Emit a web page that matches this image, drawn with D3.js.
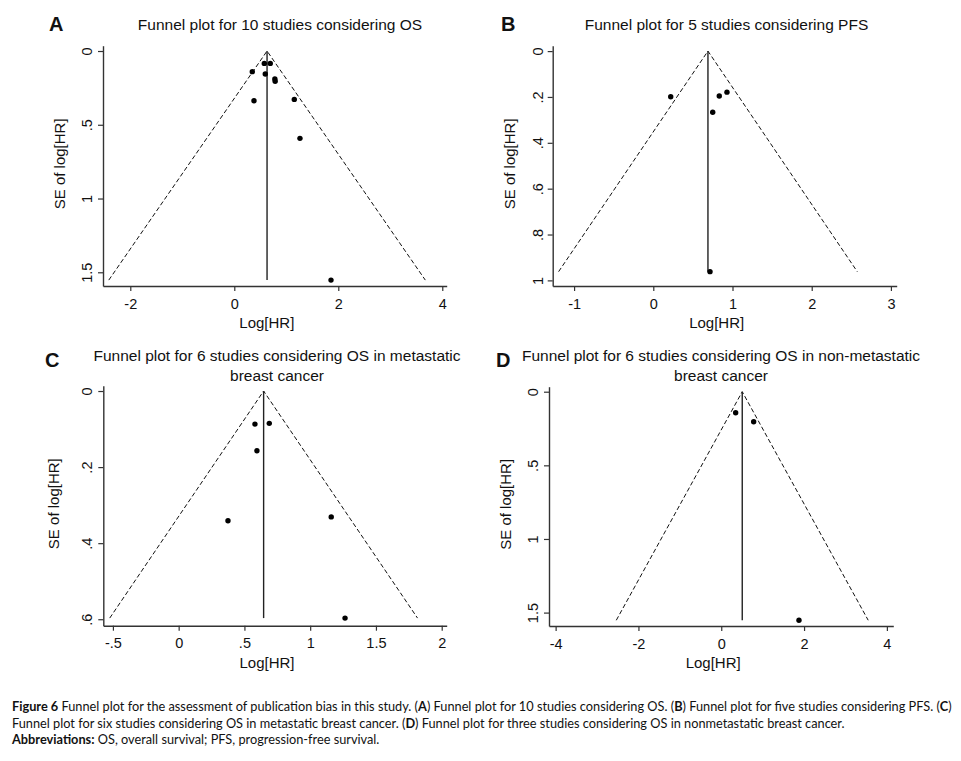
<!DOCTYPE html>
<html>
<head>
<meta charset="utf-8">
<script src="https://cdn.jsdelivr.net/npm/d3@7/dist/d3.min.js"></script>
<style>
  html, body { margin: 0; padding: 0; background: #fff; }
  svg { display: block; }
  text { font-family: "Liberation Sans", Arial, sans-serif; fill: #111; }
</style>
</head>
<body>
<svg id="chart" width="961" height="761"></svg>
<script>
// ---------- DATA ----------
// Panel A: 10 studies, OS
const logHR_A = [0.346, 0.577, 0.692, 0.596, 0.780, 0.786, 0.379, 1.154, 1.263, 1.860];
const seLogHR_A = [0.140, 0.084, 0.084, 0.156, 0.190, 0.205, 0.337, 0.328, 0.592, 1.553];
const pooled_A = 0.63;
// Panel B: 5 studies, PFS
const logHR_B = [0.220, 0.833, 0.930, 0.750, 0.716];
const seLogHR_B = [0.199, 0.196, 0.179, 0.267, 0.962];
const pooled_B = 0.69;
// Panel C: 6 studies, OS metastatic
const logHR_C = [0.580, 0.689, 0.595, 0.375, 1.160, 1.265];
const seLogHR_C = [0.087, 0.085, 0.157, 0.341, 0.331, 0.597];
const pooled_C = 0.646;
// Panel D: OS non-metastatic
const logHR_D = [0.348, 0.783, 1.877];
const seLogHR_D = [0.143, 0.204, 1.552];
const pooled_D = 0.507;

// tick values and labels
const xTicks_A = [-2, 0, 2, 4];          const xTickLabels_A = ["-2", "0", "2", "4"];
const yTicks_A = [0, 0.5, 1, 1.5];       const yTickLabels_A = ["0", ".5", "1", "1.5"];
const xTicks_B = [-1, 0, 1, 2, 3];       const xTickLabels_B = ["-1", "0", "1", "2", "3"];
const yTicks_B = [0, 0.2, 0.4, 0.6, 0.8, 1]; const yTickLabels_B = ["0", ".2", ".4", ".6", ".8", "1"];
const xTicks_C = [-0.5, 0, 0.5, 1, 1.5, 2]; const xTickLabels_C = ["-.5", "0", ".5", "1", "1.5", "2"];
const yTicks_C = [0, 0.2, 0.4, 0.6];     const yTickLabels_C = ["0", ".2", ".4", ".6"];
const xTicks_D = [-4, -2, 0, 2, 4];      const xTickLabels_D = ["-4", "-2", "0", "2", "4"];
const yTicks_D = [0, 0.5, 1, 1.5];       const yTickLabels_D = ["0", ".5", "1", "1.5"];

const panelLetters = ["A", "B", "C", "D"];
const panelTitles = [
  ["Funnel plot for 10 studies considering OS"],
  ["Funnel plot for 5 studies considering PFS"],
  ["Funnel plot for 6 studies considering OS in metastatic", "breast cancer"],
  ["Funnel plot for 6 studies considering OS in non-metastatic", "breast cancer"]
];
const xAxisTitle = "Log[HR]";
const yAxisTitle = "SE of log[HR]";

// ---------- LAYOUT ----------
const panels = [
  { letter: panelLetters[0], title: panelTitles[0], x: logHR_A, se: seLogHR_A, pooled: pooled_A,
    xt: xTicks_A, xl: xTickLabels_A, yt: yTicks_A, yl: yTickLabels_A,
    xr: [103, 446.7], xd: [-2.525, 4.085], yr: [45.7, 286], yd: [-0.036, 1.593],
    letterPos: [49, 31], titleX: 280, titleY: [30], yLabelOff: 38, yTickOff: 11 },
  { letter: panelLetters[1], title: panelTitles[1], x: logHR_B, se: seLogHR_B, pooled: pooled_B,
    xt: xTicks_B, xl: xTickLabels_B, yt: yTicks_B, yl: yTickLabels_B,
    xr: [552.7, 896.7], xd: [-1.27, 3.073], yr: [45.7, 286], yd: [-0.0235, 1.0245],
    letterPos: [501, 31], titleX: 726.5, titleY: [30], yLabelOff: 38, yTickOff: 10 },
  { letter: panelLetters[2], title: panelTitles[2], x: logHR_C, se: seLogHR_C, pooled: pooled_C,
    xt: xTicks_C, xl: xTickLabels_C, yt: yTicks_C, yl: yTickLabels_C,
    xr: [103.3, 446.7], xd: [-0.573, 2.038], yr: [385.7, 625.7], yd: [-0.014, 0.617],
    letterPos: [45, 367], titleX: 277, titleY: [360.5, 380.5], yLabelOff: 44, yTickOff: 11 },
  { letter: panelLetters[3], title: panelTitles[3], x: logHR_D, se: seLogHR_D, pooled: pooled_D,
    xt: xTicks_D, xl: xTickLabels_D, yt: yTicks_D, yl: yTickLabels_D,
    xr: [549, 893.3], xd: [-4.16, 4.155], yr: [386.7, 626], yd: [-0.034, 1.591],
    letterPos: [496, 367], titleX: 721, titleY: [360.5, 380.5], yLabelOff: 38, yTickOff: 11 }
];

const svg = d3.select("#chart");
const axisColor = "#333";

panels.forEach(p => {
  const g = svg.append("g");
  const x = d3.scaleLinear().domain(p.xd).range(p.xr);
  const y = d3.scaleLinear().domain(p.yd).range(p.yr);

  const pts = p.x.map((v, i) => ({ lhr: v, se: p.se[i] }));
  const maxSE = d3.max(p.se);

  // funnel (pseudo 95% CI) lines
  const funnel = [
    { lhr: p.pooled - 1.96 * maxSE, se: maxSE },
    { lhr: p.pooled, se: 0 },
    { lhr: p.pooled + 1.96 * maxSE, se: maxSE }
  ];
  g.append("path")
    .attr("d", d3.line().x(d => x(d.lhr)).y(d => y(d.se))(funnel))
    .attr("fill", "none").attr("stroke", "#111").attr("stroke-width", 1)
    .attr("stroke-dasharray", "4.5,2.5");

  // pooled estimate line
  g.append("line")
    .attr("x1", x(p.pooled)).attr("x2", x(p.pooled))
    .attr("y1", y(0)).attr("y2", y(maxSE))
    .attr("stroke", "#222").attr("stroke-width", 1.4);

  // axes
  const xAxis = d3.axisBottom(x).tickValues(p.xt).tickFormat((d, i) => p.xl[i])
    .tickSize(5).tickSizeOuter(0).tickPadding(4);
  const gx = g.append("g").attr("transform", `translate(0,${p.yr[1]})`).call(xAxis);
  const yAxis = d3.axisLeft(y).tickValues(p.yt).tickFormat((d, i) => p.yl[i])
    .tickSize(5).tickSizeOuter(0);
  const gy = g.append("g").attr("transform", `translate(${p.xr[0]},0)`).call(yAxis);

  [gx, gy].forEach(ax => {
    ax.select(".domain").attr("stroke", axisColor).attr("stroke-width", 1.4);
    ax.selectAll(".tick line").attr("stroke", axisColor).attr("stroke-width", 1.2);
    ax.selectAll(".tick text").attr("fill", "#111")
      .style("font-family", '"Liberation Sans", Arial, sans-serif').style("font-size", "14.5px");
  });
  gx.selectAll(".tick text").attr("dy", "0.95em");
  gy.selectAll(".tick text")
    .attr("transform", "rotate(-90)")
    .attr("x", 0).attr("y", -p.yTickOff).attr("dy", 0)
    .attr("text-anchor", "middle");

  // points
  g.selectAll("circle.pt").data(pts).enter().append("circle")
    .attr("class", "pt")
    .attr("cx", d => x(d.lhr)).attr("cy", d => y(d.se)).attr("r", 2.7)
    .attr("fill", "#000");

  // axis titles
  g.append("text")
    .attr("x", (p.xr[0] + p.xr[1]) / 2 - 8).attr("y", p.yr[1] + 42)
    .attr("text-anchor", "middle").style("font-size", "15px").text(xAxisTitle);
  const yc = (p.yr[0] + p.yr[1]) / 2;
  g.append("text")
    .attr("transform", `translate(${p.xr[0] - p.yLabelOff},${yc - 2}) rotate(-90)`)
    .attr("text-anchor", "middle").style("font-size", "15px").text(yAxisTitle);

  // panel letter
  g.append("text")
    .attr("x", p.letterPos[0]).attr("y", p.letterPos[1])
    .style("font-size", "20px").style("font-weight", "bold").text(p.letter);

  // panel title
  p.title.forEach((t, i) => {
    g.append("text")
      .attr("x", p.titleX).attr("y", p.titleY[i])
      .attr("text-anchor", "middle").style("font-size", "15.5px").text(t);
  });
});

// ---------- CAPTION ----------
const captionLines = [
  [["Figure 6", true], [" Funnel plot for the assessment of publication bias in this study. (", false], ["A", true],
   [") Funnel plot for 10 studies considering OS. (", false], ["B", true],
   [") Funnel plot for five studies considering PFS. (", false], ["C", true], [")", false]],
  [["Funnel plot for six studies considering OS in metastatic breast cancer. (", false], ["D", true],
   [") Funnel plot for three studies considering OS in nonmetastatic breast cancer.", false]],
  [["Abbreviations:", true], [" OS, overall survival; PFS, progression-free survival.", false]]
];
const captionY = [711, 727.5, 744];
const baseCapSize = 12;
const capTexts = captionLines.map((line, i) => {
  const t = svg.append("text")
    .attr("x", 12).attr("y", captionY[i])
    .style("font-family", 'Lato, "Open Sans", sans-serif')
    .style("font-size", baseCapSize + "px");
  line.forEach(([s, b]) => {
    t.append("tspan").style("font-weight", b ? "bold" : "normal").text(s);
  });
  return t;
});
// fit the first (full-width) line to the caption width, use the same size for all lines
const w0 = capTexts[0].node().getComputedTextLength();
const capSize = Math.min(14, baseCapSize * 940 / w0);
capTexts.forEach(t => t.style("font-size", capSize.toFixed(2) + "px"));
</script>
</body>
</html>
